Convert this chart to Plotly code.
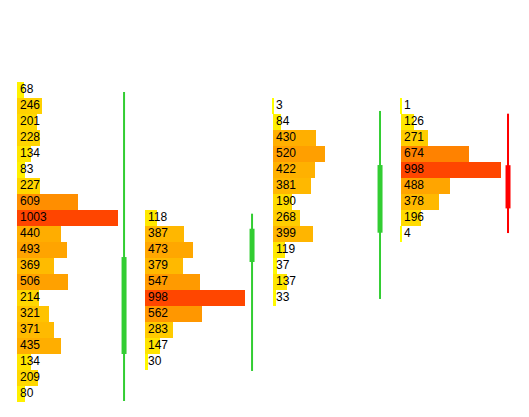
import plotly.graph_objects as go

# ---- data ----
group1_volumes = [68, 246, 201, 228, 134, 83, 227, 609, 1003, 440, 493, 369, 506, 214, 321, 371, 435, 134, 209, 80]
group1_prices = [119, 118, 117, 116, 115, 114, 113, 112, 111, 110, 109, 108, 107, 106, 105, 104, 103, 102, 101, 100]

group2_volumes = [118, 387, 473, 379, 547, 998, 562, 283, 147, 30]
group2_prices = [111, 110, 109, 108, 107, 106, 105, 104, 103, 102]

group3_volumes = [3, 84, 430, 520, 422, 381, 190, 268, 399, 119, 37, 137, 33]
group3_prices = [118, 117, 116, 115, 114, 113, 112, 111, 110, 109, 108, 107, 106]

group4_volumes = [1, 126, 271, 674, 998, 488, 378, 196, 4]
group4_prices = [118, 117, 116, 115, 114, 113, 112, 111, 110]

candle_open = [102.5, 108.25, 110.08, 114.3]
candle_high = [118.88, 111.27, 117.69, 117.52]
candle_low = [99.56, 101.44, 105.94, 110.06]
candle_close = [108.56, 110.33, 114.31, 111.6]

GROUP_SPAN = 1271      # horizontal room for one profile, in volume units
CANDLE_OFFSET = 1063   # candle position inside a group, in volume units
TEXT_PAD = 30          # label padding from bar start, in volume units

groups = [
    (group1_volumes, group1_prices),
    (group2_volumes, group2_prices),
    (group3_volumes, group3_prices),
    (group4_volumes, group4_prices),
]

fig = go.Figure()

for g, (vols, prices) in enumerate(groups):
    base = g * GROUP_SPAN
    fig.add_trace(go.Bar(
        orientation="h",
        x=vols,
        y=prices,
        base=[base] * len(vols),
        marker=dict(
            color=vols,
            colorscale=[[0, "#FFFF00"], [1, "#FF4500"]],
            cmin=0, cmax=1003,
            line=dict(width=0),
        ),
        width=1.0,
        showlegend=False,
        hoverinfo="x+y",
    ))
    fig.add_trace(go.Scatter(
        x=[base + TEXT_PAD] * len(vols),
        y=prices,
        mode="text",
        text=[str(v) for v in vols],
        textposition="middle right",
        textfont=dict(family="Arial, Liberation Sans, sans-serif", size=12, color="#000000"),
        showlegend=False,
        hoverinfo="skip",
    ))

for g in range(4):
    cx = g * GROUP_SPAN + CANDLE_OFFSET
    color = "#32CD32" if candle_close[g] >= candle_open[g] else "#FF0000"
    fig.add_trace(go.Scatter(
        x=[cx, cx], y=[candle_low[g], candle_high[g]],
        mode="lines", line=dict(color=color, width=2),
        showlegend=False, hoverinfo="skip",
    ))
    fig.add_trace(go.Scatter(
        x=[cx, cx], y=[candle_open[g], candle_close[g]],
        mode="lines", line=dict(color=color, width=5),
        showlegend=False, hoverinfo="skip",
    ))

fig.update_layout(
    width=529, height=417,
    margin=dict(l=0, r=0, t=0, b=0),
    paper_bgcolor="white", plot_bgcolor="white",
    bargap=0, barmode="overlay",
    xaxis=dict(range=[-89.4, 5163.8], visible=False, fixedrange=True),
    yaxis=dict(range=[98.0625, 124.125], visible=False, fixedrange=True),
    showlegend=False,
)

fig.write_html("out.html")
